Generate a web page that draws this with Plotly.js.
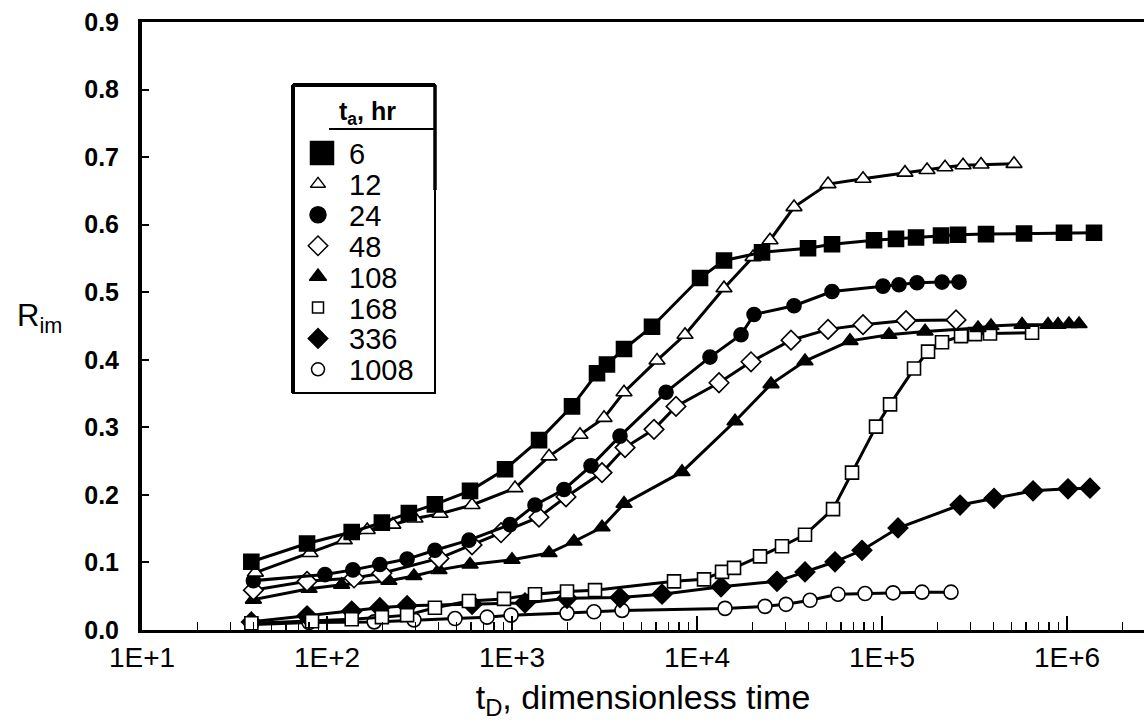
<!DOCTYPE html>
<html>
<head>
<meta charset="utf-8">
<script src="https://cdn.plot.ly/plotly-3.0.1.min.js"></script>
<style>
  html, body { margin: 0; padding: 0; background: #fff; }
  #chart { width: 1144px; height: 725px; }
</style>
</head>
<body>
<div id="chart"></div>
<script>
// ---- data (t_D dimensionless time, R_im) ----
const seriesNames = ["6", "12", "24", "48", "108", "168", "336", "1008"];

const tD_6 = [39, 78, 136, 198, 277, 383, 593, 917, 1400, 2110, 2880, 3260, 4030, 5710, 10380, 13990, 22450, 39810, 53670, 90510, 119000, 152700, 208400, 257600, 364800, 585500, 963000, 1399000];
const r_6  = [0.101, 0.128, 0.145, 0.159, 0.173, 0.186, 0.206, 0.238, 0.281, 0.331, 0.380, 0.393, 0.416, 0.449, 0.521, 0.547, 0.559, 0.565, 0.571, 0.577, 0.579, 0.581, 0.584, 0.585, 0.586, 0.587, 0.588, 0.588];

const tD_12 = [41, 81, 124, 165, 227, 299, 408, 608, 1038, 1585, 2331, 3143, 4031, 6077, 8612, 13990, 20080, 24810, 33450, 51070, 78930, 133100, 175100, 219000, 274100, 342800, 517000];
const r_12  = [0.085, 0.114, 0.133, 0.148, 0.156, 0.165, 0.172, 0.185, 0.210, 0.257, 0.289, 0.314, 0.352, 0.399, 0.437, 0.506, 0.552, 0.577, 0.626, 0.660, 0.668, 0.677, 0.681, 0.685, 0.688, 0.689, 0.690];

const tD_24 = [40, 97.5, 138, 193, 271, 383, 585, 975, 1331, 1910, 2673, 3834, 6800, 11750, 17290, 20330, 33450, 53670, 101200, 123500, 154600, 211000, 260800];
const r_24  = [0.073, 0.082, 0.089, 0.097, 0.105, 0.118, 0.133, 0.156, 0.185, 0.208, 0.243, 0.287, 0.352, 0.404, 0.437, 0.467, 0.480, 0.501, 0.509, 0.511, 0.514, 0.515, 0.515];

const tD_48 = [40, 78, 140, 198, 403, 608, 872, 1399, 1958, 3065, 4081, 5855, 7698, 13150, 19580, 32220, 51070, 78930, 134800, 251200];
const r_48  = [0.059, 0.072, 0.077, 0.084, 0.106, 0.126, 0.144, 0.167, 0.197, 0.233, 0.270, 0.297, 0.331, 0.366, 0.397, 0.429, 0.445, 0.452, 0.458, 0.459];

const tD_108 = [40, 80, 120, 216, 295, 403, 593, 1000, 1585, 2163, 3065, 4031, 8296, 16050, 25120, 38340, 67140, 109100, 170800, 330300, 388200, 571200, 789300, 894000, 1025000, 1161000];
const r_108  = [0.045, 0.061, 0.067, 0.073, 0.080, 0.089, 0.097, 0.104, 0.114, 0.131, 0.152, 0.187, 0.234, 0.309, 0.364, 0.398, 0.428, 0.437, 0.442, 0.447, 0.450, 0.452, 0.452, 0.452, 0.453, 0.453];

const tD_168 = [39, 83, 136, 198, 271, 383, 585, 905, 1331, 1983, 2809, 7510, 10910, 13650, 15850, 21900, 28800, 38340, 54340, 68840, 92800, 110500, 148900, 177300, 211000, 267300, 318200, 383400, 647000];
const r_168  = [0.010, 0.013, 0.016, 0.019, 0.022, 0.033, 0.043, 0.046, 0.053, 0.057, 0.059, 0.072, 0.075, 0.086, 0.092, 0.109, 0.124, 0.141, 0.179, 0.233, 0.301, 0.334, 0.387, 0.412, 0.426, 0.435, 0.438, 0.439, 0.440];

const tD_336 = [39, 78, 136, 193, 271, 608, 1175, 1983, 3834, 6470, 13480, 27060, 38340, 55700, 77950, 122000, 264100, 403100, 655000, 1012000, 1331000];
const r_336  = [0.012, 0.021, 0.028, 0.033, 0.036, 0.038, 0.040, 0.047, 0.048, 0.053, 0.064, 0.072, 0.086, 0.101, 0.118, 0.151, 0.185, 0.195, 0.206, 0.209, 0.210];

const tD_1008 = [39, 80, 180, 295, 492, 733, 988, 1983, 2774, 3932, 14170, 23310, 30270, 40810, 57820, 80930, 114700, 164500, 236000];
const r_1008  = [0.008, 0.011, 0.012, 0.015, 0.017, 0.019, 0.022, 0.025, 0.027, 0.029, 0.032, 0.035, 0.038, 0.044, 0.053, 0.054, 0.055, 0.056, 0.056];

const xTickVals = [10, 100, 1000, 10000, 100000, 1000000];
const xTickText = ["1E+1", "1E+2", "1E+3", "1E+4", "1E+5", "1E+6"];
const yTickVals = [0, 0.1, 0.2, 0.3, 0.4, 0.5, 0.6, 0.7, 0.8, 0.9];
const yTickText = ["0.0", "0.1", "0.2", "0.3", "0.4", "0.5", "0.6", "0.7", "0.8", "0.9"];
const legendTitle = "t<sub>a</sub>, hr";

// ---- styles ----
const xs = [tD_6, tD_12, tD_24, tD_48, tD_108, tD_168, tD_336, tD_1008];
const ys = [r_6, r_12, r_24, r_48, r_108, r_168, r_336, r_1008];
const styles = [
  {symbol: "square",      fill: "#000", size: 15, keySize: 23},
  {symbol: "triangle-up", fill: "#fff", size: 14, keySize: 13},
  {symbol: "circle",      fill: "#000", size: 14, keySize: 16},
  {symbol: "diamond",     fill: "#fff", size: 15, keySize: 15},
  {symbol: "triangle-up", fill: "#000", size: 14, keySize: 15},
  {symbol: "square",      fill: "#fff", size: 13, keySize: 11},
  {symbol: "diamond",     fill: "#000", size: 15, keySize: 15},
  {symbol: "circle",      fill: "#fff", size: 14, keySize: 13}
];

const minorVals = [];
for (let e = 1; e <= 6; e++) {
  for (let m = 2; m <= 9; m++) minorVals.push(m * Math.pow(10, e));
}

const font = "Liberation Sans, Arial, Helvetica, sans-serif";

// legend box geometry in pixel units (overlay axes x2/y2 map 1 unit = 1 px)
const box = {l: 293, r: 435, t: 85, b: 393};
const keyX = 318, textX = 347, rowTop = 153, rowStep = 30.9;

const traces = [];
for (let i = xs.length - 1; i >= 0; i--) {
  const s = styles[i];
  traces.push({
    type: "scatter", mode: "lines+markers",
    x: xs[i], y: ys[i], name: seriesNames[i], showlegend: false,
    line: {color: "#000", width: 3},
    marker: {symbol: s.symbol, size: s.size, color: s.fill, line: {color: "#000", width: 1.6}},
    cliponaxis: false, hoverinfo: "skip"
  });
}

const shapes = [
  {type: "rect", xref: "x2", yref: "y2", x0: box.l, x1: box.r, y0: box.t, y1: box.b,
   line: {color: "#000", width: 2}, fillcolor: "#fff", layer: "below"},
  {type: "line", xref: "x2", yref: "y2", x0: box.l, x1: box.l, y0: box.t, y1: box.b, line: {color: "#000", width: 4}},
  {type: "line", xref: "x2", yref: "y2", x0: box.l, x1: box.r, y0: box.t, y1: box.t, line: {color: "#000", width: 4}},
  {type: "line", xref: "x2", yref: "y2", x0: box.r, x1: box.r, y0: box.t, y1: 190, line: {color: "#000", width: 3.5}},
  {type: "line", xref: "x2", yref: "y2", x0: 329, x1: box.r, y0: 129, y1: 129, line: {color: "#000", width: 2}}
];

const annotations = [
  {xref: "paper", yref: "paper", x: -0.102, y: 0.513, xanchor: "center", yanchor: "middle",
   text: "R<sub>im</sub>", showarrow: false, font: {size: 31, family: font}},
  {xref: "x2", yref: "y2", x: 367, y: 113, xanchor: "center", yanchor: "middle",
   text: "<b>" + legendTitle + "</b>", showarrow: false, font: {size: 25, family: font}}
];

for (let i = 0; i < seriesNames.length; i++) {
  const s = styles[i];
  const rowY = rowTop + i * rowStep;
  traces.push({
    type: "scatter", mode: "markers", xaxis: "x2", yaxis: "y2",
    x: [keyX + (i === 0 ? 4 : 0)], y: [rowY], showlegend: false, hoverinfo: "skip",
    marker: {symbol: s.symbol, size: s.keySize, color: s.fill, line: {color: "#000", width: 1.5}},
    cliponaxis: false
  });
  annotations.push({
    xref: "x2", yref: "y2", x: textX, y: rowY + 1, xanchor: "left", yanchor: "middle",
    text: seriesNames[i], showarrow: false, font: {size: 29, family: font}
  });
}

const layout = {
  width: 1144, height: 725,
  margin: {l: 142, r: 0, t: 22, b: 95, pad: 0},
  paper_bgcolor: "#fff", plot_bgcolor: "#fff",
  font: {family: font, color: "#000"},
  showlegend: false,
  xaxis: {
    type: "log", range: [1, 6.416],
    showgrid: false, zeroline: false,
    showline: true, linecolor: "#000", linewidth: 3, mirror: true,
    tickmode: "array", tickvals: xTickVals, ticktext: xTickText,
    ticks: "inside", ticklen: 14, tickwidth: 2, tickcolor: "#000",
    minor: {tickmode: "array", tickvals: minorVals, ticks: "inside", ticklen: 8, tickwidth: 1.5, tickcolor: "#000", showgrid: false},
    tickfont: {size: 28, family: font},
    ticklabelstandoff: 0,
    title: {text: "t<sub>D</sub>, dimensionless time", font: {size: 34, family: font}, standoff: 14}
  },
  yaxis: {
    range: [0, 0.9],
    showgrid: false, zeroline: false,
    showline: true, linecolor: "#000", linewidth: 4, mirror: false,
    tickmode: "array", tickvals: yTickVals, ticktext: yTickText,
    ticks: "inside", ticklen: 7, tickwidth: 2, tickcolor: "#000",
    tickfont: {size: 25, family: font, weight: "bold"},
    ticklabelstandoff: 14
  },
  xaxis2: {overlaying: "x", anchor: "y2", range: [142, 1144], visible: false, fixedrange: true},
  yaxis2: {overlaying: "y", anchor: "x2", range: [630, 22], visible: false, fixedrange: true},
  shapes: shapes,
  annotations: annotations
};

Plotly.newPlot("chart", traces, layout, {displayModeBar: false, staticPlot: true});
</script>
</body>
</html>
